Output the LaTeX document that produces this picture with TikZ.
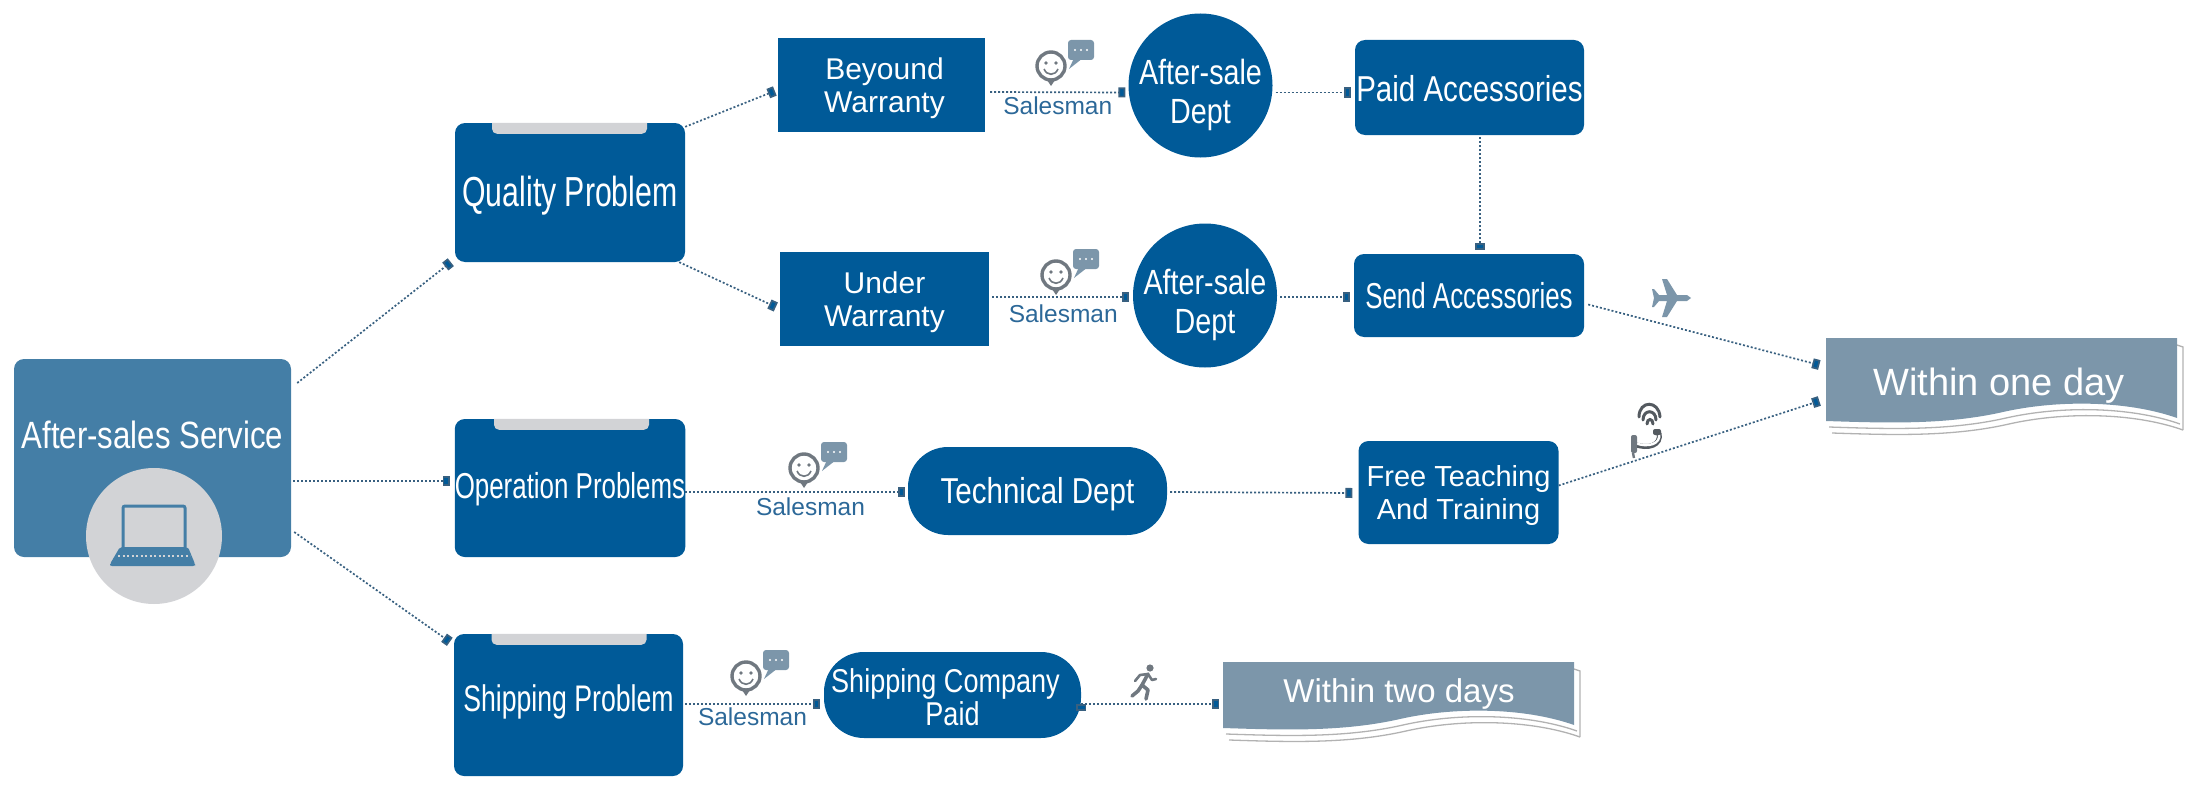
\documentclass[tikz,border=0pt]{standalone}
\usepackage{fontspec}
\setmainfont{Liberation Sans}
\newfontfamily\tightfont[FakeStretch=0.72]{Liberation Sans}
\newfontfamily\narrowfont[FakeStretch=0.82]{Liberation Sans}
\usetikzlibrary{arrows.meta}
\definecolor{boxblue}{RGB}{0,90,152}
\definecolor{mainblue}{RGB}{68,126,166}
\definecolor{slate}{RGB}{124,150,170}
\definecolor{tabgrey}{RGB}{210,211,214}
\definecolor{linkblue}{RGB}{56,96,128}
\definecolor{labelblue}{RGB}{44,104,152}
\definecolor{icongrey}{RGB}{112,120,128}
\newcommand{\setfs}[2]{\fontsize{#1}{#2}\selectfont}

\begin{document}
\begin{tikzpicture}[x=1pt,y=-1pt]

\useasboundingbox (0,0) rectangle (2204,800);

\tikzstyle{panel}=[fill=boxblue,text=white,align=center,rounded corners=10pt,inner sep=0pt]
\tikzstyle{flatbox}=[panel,sharp corners]
\tikzstyle{dept}=[circle,fill=boxblue,text=white,align=center,inner sep=-15pt,minimum size=144pt,font=\narrowfont\setfs{35}{39}]
\tikzstyle{pill}=[panel,rounded corners=40pt]
\tikzstyle{notetext}=[text=white,inner sep=0pt,minimum width=351pt]
\tikzstyle{link}=[draw=linkblue,line width=1.7pt,dash pattern=on 2pt off 2pt,-{Square[length=7pt,width=10pt,fill=boxblue]}]
\tikzstyle{salesman}=[text=labelblue,inner sep=3pt,font=\setfs{24.5}{27}]

\tikzset{
	saleicon/.pic={
		\draw[draw=icongrey,fill=white,line width=3.4pt](0,0)circle[x radius=14,y radius=14];
		\fill[icongrey](-4,14)--(4,14)--(0,20)--cycle;
		\fill[icongrey](-5,-3)circle[radius=1.8](5,-3)circle[radius=1.8];
		\draw[icongrey,line width=1.6pt](-7,3)..controls(-4,10)and(4,10)..(7,3);
		\fill[slate,rounded corners=3pt](17,-26)rectangle(43,-6);
		\fill[slate](23,-8)--(32,-8)--(18,3)--cycle;
		\fill[white](24,-16)circle[radius=1.2](30,-16)circle[radius=1.2](36,-16)circle[radius=1.2];
	},
	plane/.pic={
		\fill[slate](19,0)--(15,-3)--(5,-3)--(-5,-19)--(-10,-19)--(-5,-3)--(-13,-3)--(-18,-9)--(-20,-9)--(-18,0)--(-20,9)--(-18,9)--(-13,3)--(-5,3)--(-10,19)--(-5,19)--(5,3)--(15,3)--cycle;
	},
	runner/.pic={
		\fill[icongrey](7,-14)circle[radius=3.6];
		\draw[icongrey,line width=3.6pt,line cap=round,line join=round](5,-8)--(-1,3)--(5,8)--(3,17);
		\draw[icongrey,line width=3.6pt,line cap=round,line join=round](-1,3)--(-5,9)--(-11,14);
		\draw[icongrey,line width=2.6pt,line cap=round,line join=round](-8,-1)--(-3,-7)--(5,-8)--(9,-2)--(13,-3);
	},
	phone/.pic={
		\draw[icongrey!75!black,line width=3pt,line cap=round](-9,-8)..controls(-9,-25)and(11,-25)..(12,-8);
		\draw[icongrey!75!black,line width=3pt,line cap=round](-5,-5)..controls(-5,-16)and(8,-16)..(8,-5);
		\draw[icongrey!75!black,line width=3pt,line cap=round](-1,-1)..controls(-1,-7)and(5,-7)..(5,-1);
		\draw[icongrey!75!black,line width=5pt](11,8)..controls(14,20)and(0,25)..(-14,19);
		\draw[white,line width=2.4pt](11,9)..controls(13,19)and(0,23)..(-13,18);
		\fill[icongrey!75!black,rounded corners=2pt](5,4)rectangle(13,10);
		\fill[icongrey,rounded corners=2pt](-17,10)rectangle(-11,28);
		\draw[icongrey,line width=2.4pt](-15,28)--(-14,33);
	}
}

\node[panel,fill=mainblue,minimum width=277pt,minimum height=198pt,text depth=47pt,font=\narrowfont\setfs{38}{40}](main)at(152.5,458){After-sales Service};

\fill[tabgrey](154,536)circle[radius=68];
\draw[mainblue,line width=3pt,rounded corners=2pt](123,547)--(123,506)--(185,506)--(185,547);
\fill[mainblue,rounded corners=2pt](120,547)--(188,547)--(195,564)--(195,566)--(110,566)--(110,564)--cycle;
\draw[tabgrey,line width=1.4pt,dash pattern=on 2pt off 2.5pt](118,556)--(190,556);

\node[panel,minimum width=230pt,minimum height=139pt,text height=37pt,font=\tightfont\setfs{42}{44}](quality)at(570,192.5){Quality Problem};

\node[panel,minimum width=230pt,minimum height=138pt,text height=29pt,font=\tightfont\setfs{36}{38}](operation)at(570,488){Operation Problems};

\node[panel,minimum width=229pt,minimum height=142pt,text depth=13pt,font=\tightfont\setfs{37}{39}](shipping)at(568.5,705){Shipping Problem};

\foreach \n/\tabx in {quality/-78,operation/-76,shipping/-77}{
	\fill[tabgrey]([xshift=\tabx pt]\n.north)[rounded corners=5pt]--++(0,11)--++(155,0)[sharp corners]--++(0,-11)--cycle;
}

\node[flatbox,minimum width=207pt,minimum height=94pt,font=\setfs{30}{33}](beyound)at(881.5,85){\rule{0pt}{28pt}\hspace{6pt}Beyound\\\hspace{6pt}Warranty};

\node[flatbox,minimum width=209pt,minimum height=94pt,font=\setfs{30}{33}](under)at(884.5,299){\rule{0pt}{28pt}Under\\Warranty};

\node[dept](deptA)at(1200.5,85.5){\rule{0pt}{45pt}After-sale\\Dept};

\node[dept](deptB)at(1205,295.5){\rule{0pt}{45pt}After-sale\\Dept};

\node[panel,minimum width=229pt,minimum height=95pt,text height=29pt,font=\narrowfont\setfs{36}{38}](paid)at(1469.5,87.5){Paid Accessories};

\node[panel,minimum width=230pt,minimum height=83pt,font=\tightfont\setfs{36}{38}](send)at(1469,295.5){Send Accessories};

\node[pill,minimum width=259pt,minimum height=88pt,text height=32pt,font=\narrowfont\setfs{36}{38}](technical)at(1037.5,491){Technical Dept};

\node[panel,minimum width=200pt,minimum height=103pt,font=\setfs{29}{33}](free)at(1458.5,492.5){\rule{0pt}{27pt}Free Teaching\\And Training};

\node[pill,minimum width=257pt,minimum height=86pt,font=\narrowfont\setfs{33}{33}](shipco)at(952.5,695){\rule{0pt}{29pt}Shipping Company\hspace{14pt}\mbox{}\\Paid};

\foreach \bx/\by/\bh in {1826/338/83,1223/662/66}{
	\begin{scope}[shift={(\bx,\by)}]
		\foreach \off in {3,6}{
			\draw[black!30,line width=1.3pt](\off+351,\bh-3+2*\off)..controls(\off+300,\bh-21+2*\off)and(\off+230,\bh-21+2*\off)..(\off+177,\bh-9+2*\off)..controls(\off+120,\bh+4+2*\off)and(\off+60,\bh+2+2*\off)..(\off,\bh+2*\off);
		}
		\draw[black!30,line width=1.3pt](351,7)--(357,9)--(357,\bh+9);
		\fill[slate](0,0)--(351,0)--(351,\bh-3)..controls(300,\bh-21)and(230,\bh-21)..(177,\bh-9)..controls(120,\bh+4)and(60,\bh+2)..(0,\bh)--cycle;
	\end{scope}
}

\node[notetext,minimum height=83pt,text height=34pt,font=\setfs{38}{40}](oneday)at(1999,382){Within one day};

\node[notetext,minimum height=66pt,text height=30pt,font=\setfs{33}{35}](twodays)at(1399,691){Within two days};

\path[link]([xshift=6pt,yshift=75pt]main.east)edge([xshift=-4pt]quality.south west)
	([xshift=2pt,yshift=-23pt]main.east)edge([xshift=-5pt,yshift=7pt]operation.west)
	([xshift=3pt,yshift=-74pt]main.east)edge([xshift=-4pt,yshift=-8pt]shipping.north west)
	([yshift=-4pt]quality.north east)edge([xshift=-3pt,yshift=-6pt]beyound.west)
	([xshift=-6pt]quality.south east)edge([xshift=-4pt,yshift=-8pt]under.west)
	([xshift=5pt,yshift=-7pt]beyound.east)edge node[salesman,below,yshift=-1pt](salesA){Salesman}([xshift=-3pt,yshift=-7pt]deptA.west)
	([xshift=3pt,yshift=2pt]under.east)edge node[salesman,below,pos=.52,yshift=-4pt](salesB){Salesman}([xshift=-4pt,yshift=-1.5pt]deptB.west)
	([xshift=3pt,yshift=-7pt]deptA.east)edge([xshift=-4pt,yshift=-5pt]paid.west)
	([xshift=3pt,yshift=-1.5pt]deptB.east)edge([xshift=-4pt,yshift=-1.5pt]send.west)
	([xshift=10.5pt,yshift=-2pt]paid.south)edge([xshift=11pt,yshift=4pt]send.north)
	([xshift=4pt,yshift=-9pt]send.east)edge([xshift=-4pt,yshift=17pt]oneday.west)
	([yshift=7pt]free.east)edge([xshift=-4pt,yshift=-19pt]oneday.west)
	([yshift=-4pt]operation.east)edge node[salesman,below,pos=.57,yshift=-2pt](salesC){Salesman}([xshift=-3pt,yshift=-1pt]technical.west)
	([xshift=3pt,yshift=-1pt]technical.east)edge([xshift=-6pt,yshift=-.5pt]free.west)
	([xshift=2pt,yshift=1pt]shipping.east)edge node[salesman,below](salesD){Salesman}([xshift=-4pt,yshift=-9pt]shipco.west)
	([yshift=-9pt]shipco.east)edge([xshift=-4pt,yshift=-13pt]twodays.west);

\pic at(1051,66){saleicon};
\pic at(1056,275){saleicon};
\pic at(804,468){saleicon};
\pic at(746,676){saleicon};
\pic at(1672,298){plane};
\pic at(1143,682){runner};
\pic at(1648,425){phone};

\end{tikzpicture}
\end{document}
